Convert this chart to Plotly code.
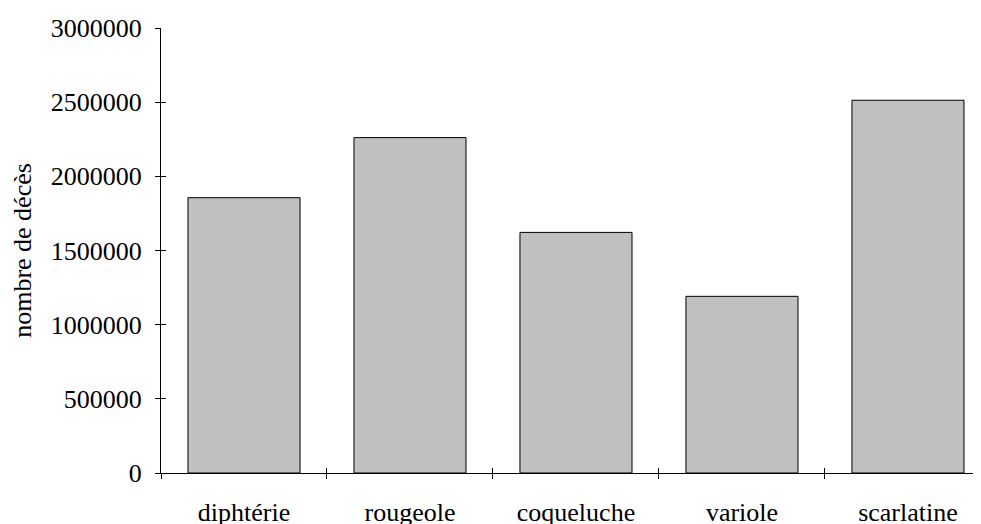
import plotly.graph_objects as go

maladies = ["diphtérie", "rougeole", "coqueluche", "variole", "scarlatine"]
deces = [1856000, 2261000, 1622000, 1191000, 2513000]
y_ticks = [0, 500000, 1000000, 1500000, 2000000, 2500000, 3000000]

FONT = dict(family="Liberation Serif, Times New Roman, serif", size=26, color="black")

# the page body keeps its 8px default margin, so the figure is 8px smaller than the window
fig = go.Figure()
fig.add_trace(go.Bar(
    x=maladies, y=deces, width=0.675,
    marker=dict(color="#C0C0C0", line=dict(color="black", width=1)),
    hoverinfo="x+y",
))

# main axes get outside ticks, overlay axes get inside ticks -> crossing tick marks
axis_common = dict(showgrid=False, zeroline=False, linecolor="black", linewidth=1,
                   tickcolor="black", tickwidth=1, ticklen=5)
fig.update_layout(
    template="none",
    width=973, height=516,
    margin=dict(l=153, r=0, t=20, b=51),
    paper_bgcolor="white", plot_bgcolor="white",
    font=FONT, showlegend=False,
    xaxis=dict(**axis_common, type="category", categoryorder="array", categoryarray=maladies,
               range=[-0.5, 4.44], ticks="outside", tickson="boundaries", showline=True,
               ticklabelstandoff=16),
    yaxis=dict(**axis_common, range=[0, 3000000], tickvals=y_ticks, tickformat="d",
               ticks="outside", showline=True, ticklabelstandoff=8,
               title=dict(text="nombre de décès", font=dict(size=26), standoff=18)),
    xaxis2=dict(**axis_common, type="category", categoryorder="array", categoryarray=maladies,
                range=[-0.5, 4.44], ticks="inside", tickson="boundaries", showline=False,
                showticklabels=False, overlaying="x", anchor="y"),
    yaxis2=dict(**axis_common, range=[0, 3000000], tickvals=y_ticks, ticks="inside",
                showline=False, showticklabels=False, overlaying="y", anchor="x", side="left"),
)
fig.add_trace(go.Bar(x=maladies, y=deces, xaxis="x2", yaxis="y2", opacity=0,
                     hoverinfo="skip", width=0.675))

fig.write_html("out.html")
